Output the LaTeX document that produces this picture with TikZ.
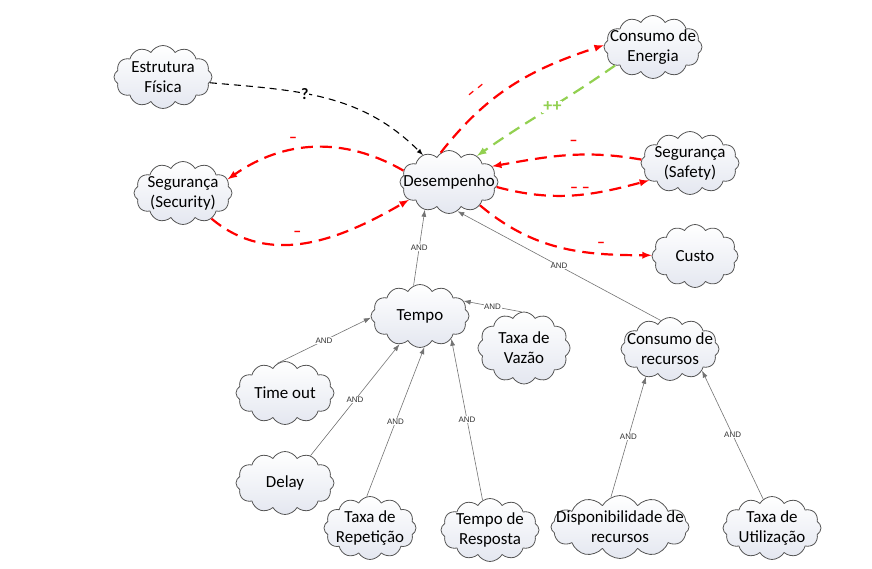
\documentclass[tikz,border=0pt]{standalone}
\usepackage{fontspec}
\setmainfont{Carlito}
\newfontfamily\andfont{Liberation Sans}
\usetikzlibrary{shapes.symbols,arrows.meta}
\definecolor{cloudbot}{RGB}{228,231,240}
\definecolor{cloudline}{RGB}{85,85,85}
\definecolor{andgray}{RGB}{115,115,115}
\definecolor{plusgreen}{RGB}{146,208,80}
\begin{document}
\begin{tikzpicture}[>=latex,line join=bevel,
  goal/.style={cloud,cloud puffs=12,cloud puff arc=120,aspect=1.5,draw=cloudline,line width=0.8bp,
    top color=white,bottom color=cloudbot,minimum width=98bp,minimum height=63bp,inner sep=0bp},
  goaltxt/.style={align=center,font=\fontsize{17}{20}\selectfont,inner sep=0bp},
  andlink/.style={andgray,line width=0.6bp,-{Latex[length=7bp,width=5bp]}},
  andlbl/.style={fill=white,inner sep=0.6bp,text=black!80,font=\andfont\fontsize{8}{8}\selectfont},
  neglink/.style={red,line width=2.2bp,dash pattern=on 12bp off 7bp,->},
  neglbl/.style={text=red,font=\fontsize{16}{16}\selectfont\bfseries},
]
\useasboundingbox (0bp,0bp) rectangle (872bp,569bp);
%%
\node (fis) at (163bp,492bp) [goal,label={[goaltxt]center:Estrutura\\Física}] {};
  \node (secu) at (183bp,376bp) [goal,label={[goaltxt]center:Segurança\\(Security)}] {};
  \node (des) at (449bp,387bp) [goal,label={[goaltxt]center:Desempenho}] {};
  \node (ener) at (653bp,522bp) [goal,label={[goaltxt]center:Consumo de\\Energia}] {};
  \node (safe) at (690bp,406bp) [goal,label={[goaltxt]center:Segurança\\(Safety)}] {};
  \node (custo) at (695bp,313bp) [goal,minimum width=86bp,label={[goaltxt]center:Custo}] {};
  \node (tempo) at (420bp,253bp) [goal,label={[goaltxt]center:Tempo}] {};
  \node (vazao) at (524bp,221bp) [goal,minimum width=92bp,minimum height=72bp,label={[goaltxt]center:Taxa de\\Vazão}] {};
  \node (recur) at (670bp,220bp) [goal,label={[goaltxt]center:Consumo de\\recursos}] {};
  \node (tout) at (285bp,176bp) [goal,label={[goaltxt]center:Time out}] {};
  \node (delay) at (285bp,86bp) [goal,label={[goaltxt]center:Delay}] {};
  \node (repet) at (370bp,41bp) [goal,minimum width=92bp,label={[goaltxt]center:Taxa de\\Repetição}] {};
  \node (resp) at (490bp,39bp) [goal,label={[goaltxt]center:Tempo de\\Resposta}] {};
  \node (disp) at (620bp,42bp) [goal,minimum width=138bp,label={[goaltxt]center:Disponibilidade de\\recursos}] {};
  \node (util) at (772bp,41bp) [goal,label={[goaltxt]center:Taxa de\\Utilização}] {};
%
  \draw [black,line width=1.1bp,dash pattern=on 7bp off 5bp,->] (fis.-7) to[out=-5,in=135]
    node[pos=0.4,fill=white,inner sep=1bp,font=\fontsize{16}{16}\selectfont\bfseries] {?} (des.134);
  \draw [neglink] (des.106) to[out=52,in=198]
    node[neglbl,pos=0.33,sloped,above=9bp] {– –} (ener.178);
  \draw [plusgreen,line width=2.2bp,dash pattern=on 12bp off 7bp,->] (ener.206) to[out=215,in=35]
    node[pos=0.45,fill=white,inner sep=1bp,text=plusgreen,font=\fontsize{18}{18}\selectfont\bfseries] {++} (des.43);
  \draw [neglink] (safe.176) to[out=170,in=10]
    node[neglbl,pos=0.45,above=5bp] {–} (des.20);
  \draw [neglink] (des.-6) to[out=-15,in=195]
    node[neglbl,pos=0.55,above=-2bp] {– –} (safe.203);
  \draw [neglink] (des.-37) to[out=-40,in=180]
    node[neglbl,pos=0.74,above=2bp] {–} (custo.179);
  \draw [neglink] (des.166) to[out=150,in=35]
    node[neglbl,pos=0.62,above=3bp] {–} (secu.17);
  \draw [neglink] (secu.-42) to[out=-40,in=210]
    node[neglbl,pos=0.45,above=3bp] {–} (des.204);
%
  \draw [andlink] (tempo.102) -- node[andlbl] {AND} (des.229);
  \draw [andlink] (recur.108) -- node[andlbl] {AND} (des.286);
  \draw [andlink] (vazao.94) -- node[andlbl] {AND} (tempo.19);
  \draw [andlink] (tout.105) -- node[andlbl] {AND} (tempo.182);
  \draw [andlink] (delay.47) -- node[andlbl] {AND} (tempo.234);
  \draw [andlink] (repet.96) -- node[andlbl] {AND} (tempo.278);
  \draw [andlink] (resp.104) -- node[andlbl] {AND} (tempo.324);
  \draw [andlink] (disp.107) -- node[andlbl] {AND} (recur.229);
  \draw [andlink] (util.107) -- node[andlbl] {AND} (recur.326);
%
\end{tikzpicture}
\end{document}
